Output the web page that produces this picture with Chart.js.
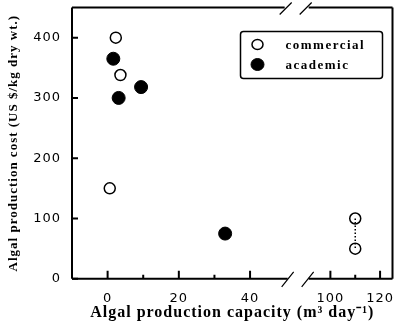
<!DOCTYPE html>
<html>
<head>
<meta charset="utf-8">
<title>Algal production cost vs capacity</title>
<script src="https://cdn.jsdelivr.net/npm/chart.js"></script>
<style>
  html, body { margin: 0; padding: 0; background: #fff; }
</style>
</head>
<body>
<canvas id="chart" width="400" height="335"></canvas>
<script>
// data
const commercialX = [2.3, 3.6, 0.6];
const commercialY = [400, 338, 150];
const commercialBigX = [110, 110];
const commercialBigY = [100, 50];
const academicX = [1.6, 3.1, 9.4, 33];
const academicY = [365, 300, 318, 75];

const yTicks = [0, 100, 200, 300, 400];
const xTicksLeft = [0, 10, 20, 30, 40];
const xTicksRight = [100, 110, 120];
const xLabelsLeft = [0, 20, 40];
const xLabelsRight = [100, 120];

function pts(xs, ys) {
  return xs.map((x, i) => ({ x: x, y: ys[i] }));
}

const tickFont = { family: 'DejaVu Sans', size: 13 };
const titleFont = { family: 'Liberation Serif', size: 16, weight: 'bold' };

// the print uses spaced lettering
const spacingPlugin = {
  id: 'spacing',
  beforeDraw(chart) { chart.ctx.letterSpacing = '1px'; }
};

// axis frame with the break marks and inward ticks
const framePlugin = {
  id: 'frame',
  afterDraw(chart) {
    const ctx = chart.ctx;
    const a = chart.chartArea;
    const brk = chart.scales.x1.right;
    const gL = brk + 2, gR = brk + 23;
    ctx.save();
    ctx.strokeStyle = '#000';
    ctx.lineWidth = 2;
    ctx.beginPath();
    ctx.moveTo(a.left, a.top); ctx.lineTo(a.left, a.bottom);
    ctx.moveTo(a.left, a.bottom); ctx.lineTo(gL, a.bottom);
    ctx.moveTo(gR, a.bottom); ctx.lineTo(a.right, a.bottom);
    ctx.moveTo(a.left, a.top); ctx.lineTo(gL - 3, a.top);
    ctx.moveTo(gR, a.top); ctx.lineTo(a.right, a.top);
    ctx.moveTo(a.right, a.top); ctx.lineTo(a.right, a.bottom);
    ctx.stroke();

    ctx.lineWidth = 1.2;
    ctx.beginPath();
    [gL, gR - 1].forEach(x => {
      ctx.moveTo(x - 6, a.bottom + 8); ctx.lineTo(x + 6, a.bottom - 7);
      ctx.moveTo(x - 8, a.top + 7); ctx.lineTo(x + 4, a.top - 5);
    });
    ctx.stroke();

    ctx.lineWidth = 2;
    ctx.beginPath();
    chart.scales.y.ticks.forEach(t => {
      const py = chart.scales.y.getPixelForValue(t.value);
      ctx.moveTo(a.left, py); ctx.lineTo(a.left + 6, py);
    });
    ['x1', 'x2'].forEach(id => {
      const s = chart.scales[id];
      s.ticks.forEach(t => {
        const px = s.getPixelForValue(t.value);
        const len = t.label !== '' ? 8 : 4;
        ctx.moveTo(px, a.bottom); ctx.lineTo(px, a.bottom - len);
      });
    });
    ctx.stroke();
    ctx.restore();
  }
};

// boxed legend inside the plot area
const legendPlugin = {
  id: 'boxLegend',
  afterDraw(chart) {
    const ctx = chart.ctx;
    const a = chart.chartArea;
    const left = a.right - 152, top = a.top + 24, w = 142, h = 47;
    ctx.save();
    ctx.strokeStyle = '#000';
    ctx.lineWidth = 1.5;
    ctx.beginPath();
    ctx.roundRect(left, top, w, h, 3);
    ctx.stroke();
    let row = 0;
    chart.data.datasets.forEach(ds => {
      if (!ds.legendText) return;
      const cy = top + 13 + row * 20;
      ctx.beginPath();
      ctx.ellipse(left + 17, cy, ds.pointRadius, ds.pointRadius - 0.5, 0, 0, Math.PI * 2);
      ctx.fillStyle = ds.pointBackgroundColor;
      ctx.fill();
      ctx.lineWidth = ds.pointBorderWidth;
      ctx.strokeStyle = ds.pointBorderColor;
      ctx.stroke();
      ctx.fillStyle = '#000';
      ctx.font = 'bold 13px "Liberation Serif"';
      ctx.letterSpacing = '1.5px';
      ctx.textBaseline = 'middle';
      ctx.fillText(ds.legendText, left + 45, cy + 1);
      row++;
    });
    ctx.restore();
  }
};

// keep the plot box where the print has it
function noPad(s) {
  s.paddingTop = 0; s.paddingBottom = 0;
  s.paddingLeft = 0; s.paddingRight = 0;
}

const openStyle = {
  pointRadius: 5.5,
  pointBackgroundColor: '#fff',
  pointBorderColor: '#000',
  pointBorderWidth: 1.5
};

const ctx = document.getElementById('chart').getContext('2d');
new Chart(ctx, {
  type: 'scatter',
  data: {
    datasets: [
      {
        data: pts(commercialBigX, commercialBigY),
        xAxisID: 'x2',
        showLine: true,
        borderColor: '#000',
        borderWidth: 1.5,
        borderDash: [1.5, 2],
        pointRadius: 0,
        order: 0
      },
      Object.assign({
        data: pts(commercialX, commercialY),
        xAxisID: 'x1',
        legendText: 'commercial',
        order: 2
      }, openStyle),
      Object.assign({
        data: pts(commercialBigX, commercialBigY),
        xAxisID: 'x2',
        order: 2
      }, openStyle),
      {
        data: pts(academicX, academicY),
        xAxisID: 'x1',
        legendText: 'academic',
        pointRadius: 6.5,
        pointBackgroundColor: '#000',
        pointBorderColor: '#000',
        pointBorderWidth: 1,
        order: 1
      }
    ]
  },
  options: {
    responsive: false,
    animation: false,
    layout: { padding: { top: 5, right: 4, left: 0, bottom: 0 } },
    plugins: {
      legend: { display: false },
      tooltip: { enabled: false },
      title: {
        display: true,
        position: 'bottom',
        fullSize: false,
        text: 'Algal production capacity (m³ day⁻¹)',
        color: '#000',
        font: titleFont,
        padding: { top: 0, bottom: 13 }
      }
    },
    scales: {
      y: {
        type: 'linear',
        min: 0,
        max: 450,
        grid: { display: false, drawTicks: false },
        border: { display: false },
        afterBuildTicks: s => { s.ticks = yTicks.map(v => ({ value: v })); },
        afterFit: s => { s.width = 72; noPad(s); },
        ticks: { font: tickFont, color: '#000', padding: 11 },
        title: {
          display: true,
          text: 'Algal production cost (US $/kg dry wt.)',
          color: '#000',
          font: { family: 'Liberation Serif', size: 13, weight: 'bold' },
          padding: { top: 6, bottom: 0 }
        }
      },
      x1: {
        type: 'linear',
        position: 'bottom',
        stack: 'x',
        stackWeight: 2,
        min: -10,
        max: 50,
        grid: { display: false, drawTicks: false },
        border: { display: false },
        afterBuildTicks: s => { s.ticks = xTicksLeft.map(v => ({ value: v })); },
        afterFit: s => { s.height = 24; noPad(s); },
        ticks: {
          font: tickFont, color: '#000', padding: 12,
          autoSkip: false, maxRotation: 0,
          callback: v => xLabelsLeft.includes(v) ? String(v) : ''
        }
      },
      x2: {
        type: 'linear',
        position: 'bottom',
        stack: 'x',
        stackWeight: 1,
        min: 82,
        max: 125,
        grid: { display: false, drawTicks: false },
        border: { display: false },
        afterBuildTicks: s => { s.ticks = xTicksRight.map(v => ({ value: v })); },
        afterFit: s => { s.height = 24; noPad(s); },
        ticks: {
          font: tickFont, color: '#000', padding: 12,
          autoSkip: false, maxRotation: 0,
          callback: v => xLabelsRight.includes(v) ? String(v) : ''
        }
      }
    }
  },
  plugins: [spacingPlugin, framePlugin, legendPlugin]
});
</script>
</body>
</html>
